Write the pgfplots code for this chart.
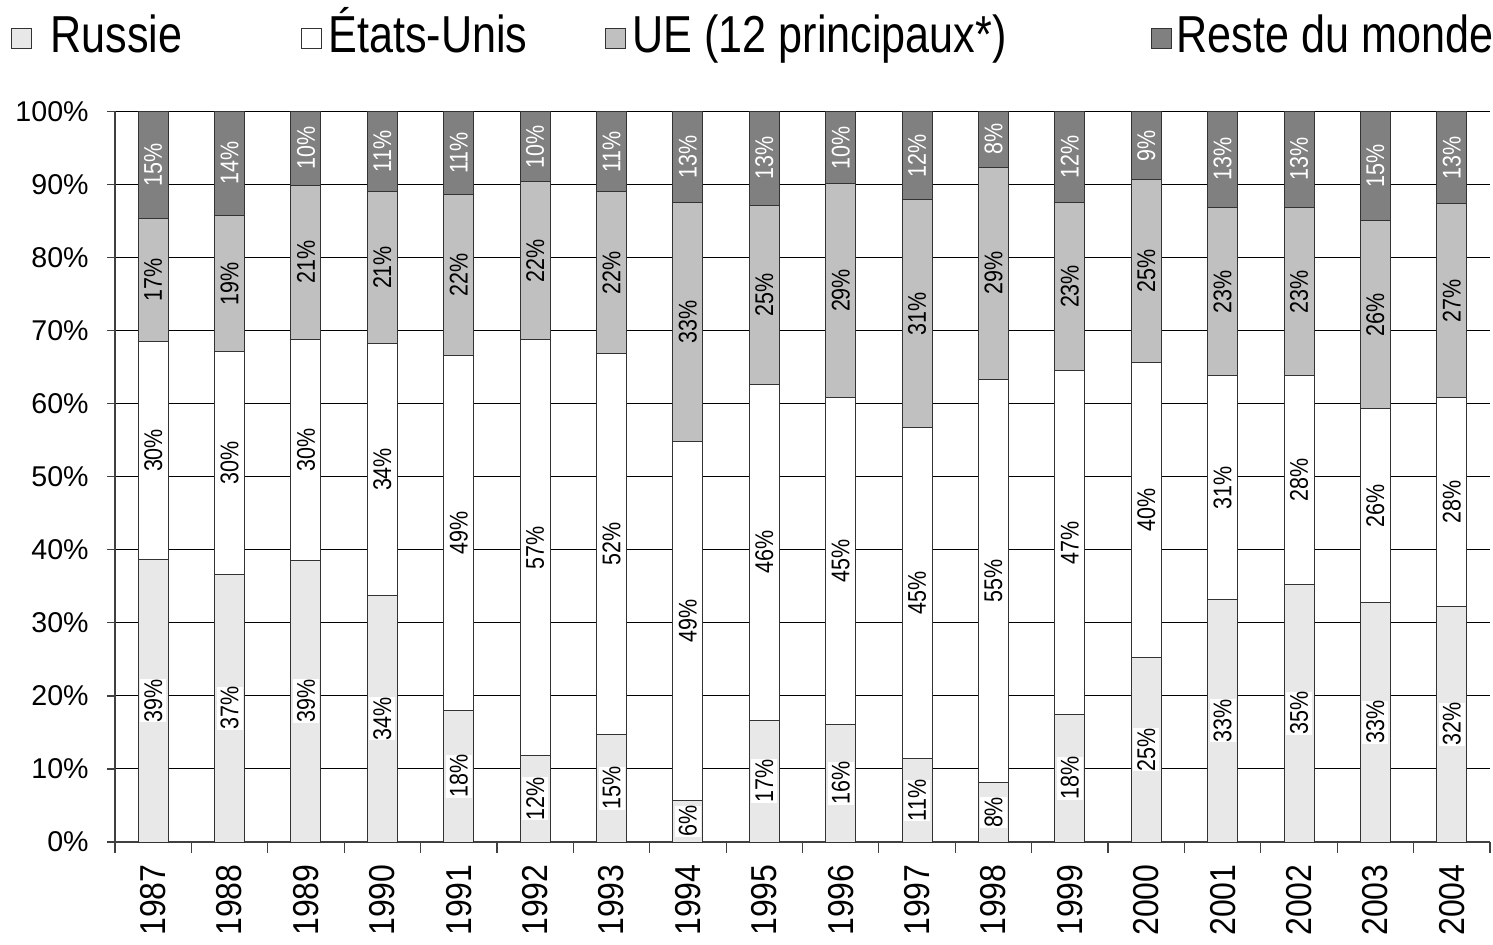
\documentclass[border=0pt]{standalone}
\usepackage{pgfplots}
\pgfplotsset{compat=1.18}
\usepackage{pgfplotstable}
\usepackage{fontspec}
\setmainfont{Liberation Sans}
\newfontfamily\legfont[FakeStretch=0.83]{Liberation Sans}
\newfontfamily\barfont[FakeStretch=0.84]{Liberation Sans}
\newfontfamily\yearfont[FakeStretch=0.89]{Liberation Sans}

\definecolor{cR}{RGB}{232,232,232}
\definecolor{cEU}{RGB}{192,192,192}
\definecolor{cRest}{RGB}{128,128,128}

\pgfplotstableread{
x r us eu rest lr lus leu lrest
0 38.7 29.8 16.9 14.6 39 30 17 15
1 36.6 30.5 18.7 14.2 37 30 19 14
2 38.6 30.2 21.1 10.1 39 30 21 10
3 33.8 34.4 20.9 10.9 34 34 21 11
4 18.0 48.6 22.0 11.4 18 49 22 11
5 11.8 57.0 21.6 9.6 12 57 22 10
6 14.7 52.2 22.1 11.0 15 52 22 11
7 5.7 49.1 32.7 12.5 6 49 33 13
8 16.7 45.9 24.6 12.8 17 46 25 13
9 16.1 44.8 29.2 9.9 16 45 29 10
10 11.4 45.4 31.1 12.1 11 45 31 12
11 8.1 55.2 29.1 7.6 8 55 29 8
12 17.5 47.0 23.1 12.4 18 47 23 12
13 25.3 40.4 25.0 9.3 25 40 25 9
14 33.2 30.6 23.1 13.1 33 31 23 13
15 35.3 28.5 23.1 13.1 35 28 23 13
16 32.8 26.5 25.8 14.9 33 26 26 15
17 32.3 28.5 26.6 12.6 32 28 27 13
}\datatable

\pgfplotsset{
  sqlegend/.style={legend image code/.code={\draw[##1] (0pt,2pt) rectangle (10pt,12pt);}},
  seglabel/.style={
    nodes near coords={\pgfplotspointmeta\%},
    point meta=explicit symbolic,
    every node near coord/.append style={
      anchor=center, rotate=90,
      font=\barfont\fontsize{12.8}{14}\selectfont, #1},
  },
}

\begin{document}
\begin{tikzpicture}
\useasboundingbox (-57.5pt,-51pt) rectangle (689pt,421pt);
\begin{axis}[
  at={(0,0)}, anchor=south west,
  scale only axis, width=687.5pt, height=365.25pt,
  ybar stacked, bar width=15pt,
  xmin=-0.5, xmax=17.5, ymin=0, ymax=100,
  xtick={0,...,17},
  xticklabels={1987,1988,1989,1990,1991,1992,1993,1994,1995,1996,1997,1998,1999,2000,2001,2002,2003,2004},
  minor xtick={-0.5,0.5,...,17.5},
  ytick={0,10,...,100},
  yticklabel={\pgfmathprintnumber{\tick}\%},
  /pgf/number format/assume math mode=true,
  ymajorgrids, grid style={black, line width=0.5pt},
  axis x line*=bottom, axis y line*=left,
  axis line style={black!75, line width=0.6pt},
  tick align=outside,
  major x tick style={draw=none},
  minor x tick style={black!75, line width=0.6pt},
  major y tick style={black!75, line width=0.6pt},
  major tick length=4pt, minor tick length=5.5pt,
  yticklabel style={font=\fontsize{14.3}{16}\selectfont, inner sep=0pt, anchor=east, xshift=-9pt},
  xticklabel style={font=\yearfont\fontsize{18}{20}\selectfont, inner sep=0pt, yshift=-7pt, rotate=90, anchor=east},
  legend columns=4,
  legend style={at={(-0.0756,1.1102)}, anchor=west, draw=none, fill=none,
    inner sep=0pt, nodes={inner sep=0pt}, column sep=0pt, cells={anchor=base west},
    font=\legfont\fontsize{26}{30}\selectfont},
]
\addplot[fill=cR, draw=black!80, line width=0.5pt, sqlegend,
  seglabel={fill=white, inner xsep=0pt, inner ysep=2pt}]
  table[x=x, y=r, meta=lr]{\datatable};
\addlegendentry{\makebox[134.5pt][l]{\hspace{9pt}Russie}}
\addplot[fill=white, draw=black!80, line width=0.5pt, sqlegend,
  seglabel={fill=white, inner xsep=0pt, inner ysep=2pt}]
  table[x=x, y=us, meta=lus]{\datatable};
\addlegendentry{\makebox[141.5pt][l]{\hspace{3pt}États-Unis}}
\addplot[fill=cEU, draw=black!80, line width=0.5pt, sqlegend,
  seglabel={inner sep=0pt}]
  table[x=x, y=eu, meta=leu]{\datatable};
\addlegendentry{\makebox[262.5pt][l]{\hspace{3pt}UE (12 principaux*)}}
\addplot[fill=cRest, draw=black!80, line width=0.5pt, sqlegend,
  seglabel={text=white, inner sep=0pt}]
  table[x=x, y=rest, meta=lrest]{\datatable};
\addlegendentry{\hspace{2pt}Reste du monde}
\end{axis}
\end{tikzpicture}
\end{document}
